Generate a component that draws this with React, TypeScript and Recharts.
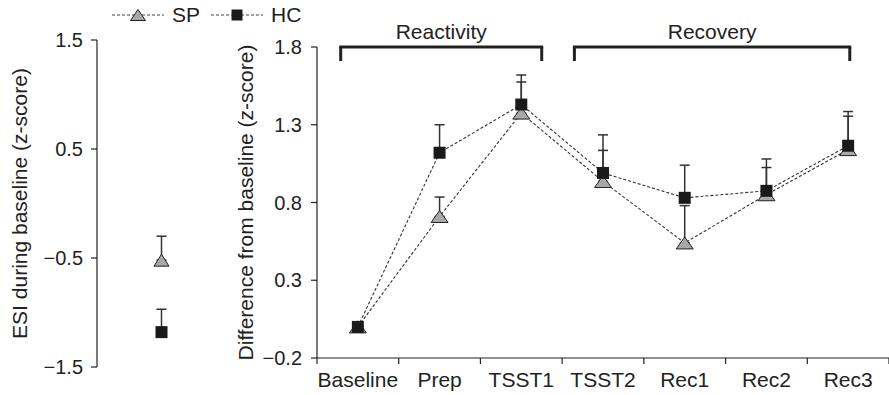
import React from "react";
import { LineChart, Line, XAxis, YAxis, ErrorBar, ReferenceLine, Legend } from "recharts";

// right panel: stress test stages
const stages = ["Baseline", "Prep", "TSST1", "TSST2", "Rec1", "Rec2", "Rec3"];
const spMean = [0, 0.71, 1.375, 0.935, 0.54, 0.85, 1.14];
const spSem = [0, 0.125, 0.2, 0.2, 0.24, 0.175, 0.215];
const hcMean = [0, 1.12, 1.43, 0.99, 0.83, 0.875, 1.165];
const hcSem = [0, 0.18, 0.19, 0.245, 0.21, 0.205, 0.22];
const diffTicks = [-0.2, 0.3, 0.8, 1.3, 1.8];

// left panel: ESI during baseline
const esiGroups = ["ESI"];
const esiSpMean = [-0.52];
const esiSpSem = [0.22];
const esiHcMean = [-1.18];
const esiHcSem = [0.21];
const esiTicks = [-1.5, -0.5, 0.5, 1.5];

// brackets over the stages (x in stage index units)
const phaseNames = ["Reactivity", "Recovery"];
const phaseFrom = [-0.21, 2.65];
const phaseTo = [2.25, 6.02];
const phaseTop = 1.8;
const phaseLeg = 1.71;

const seriesOrder = ["sp", "hc"];

const FONT = "'Liberation Sans', Arial, sans-serif";
const INK = "#222";
const RIGHT_W = 674;
const RIGHT_YAXIS = 102;
const BAND = (RIGHT_W - RIGHT_YAXIS) / stages.length;

const stageData = stages.map((stage, i) => ({
  stage,
  sp: spMean[i],
  spErr: [0, spSem[i]],
  hc: hcMean[i],
  hcErr: [0, hcSem[i]],
}));

const esiData = esiGroups.map((group, i) => ({
  group,
  sp: esiSpMean[i],
  spErr: [0, esiSpSem[i]],
  hc: esiHcMean[i],
  hcErr: [0, esiHcSem[i]],
}));

const minus = (v: number) => String(v).replace("-", "\u2212");

const Triangle = ({ cx, cy, w = 17, h = 12 }: any) => {
  if (cx == null || cy == null) return null;
  return (
    <polygon
      points={`${cx},${cy - h / 2} ${cx + w / 2},${cy + h / 2} ${cx - w / 2},${cy + h / 2}`}
      fill="#a8a8a8"
      stroke={INK}
      strokeWidth={1}
    />
  );
};

const Square = ({ cx, cy, s = 12 }: any) => {
  if (cx == null || cy == null) return null;
  return <rect x={cx - s / 2} y={cy - s / 2} width={s} height={s} fill="#1a1a1a" />;
};

const spDot = (size: number[]) => (p: any) => (
  <Triangle key={`sp-${p.index}`} cx={p.cx} cy={p.cy} w={size[0]} h={size[1]} />
);
const hcDot = (s: number) => (p: any) => <Square key={`hc-${p.index}`} cx={p.cx} cy={p.cy} s={s} />;

const yTitle = (text: string, x: number, fallbackY: number) => (props: any) => {
  const vb = props && props.viewBox;
  const cy = vb && vb.height ? vb.y + vb.height / 2 : fallbackY;
  return (
    <text
      x={x}
      y={cy}
      transform={`rotate(-90 ${x} ${cy})`}
      textAnchor="middle"
      fontSize={21}
      fontFamily={FONT}
      fill={INK}
    >
      {text}
    </text>
  );
};

const StageTick = ({ x, y, payload, index }: any) => (
  <g>
    {index === 0 && <line x1={x - BAND / 2} x2={x - BAND / 2} y1={y} y2={y + 6} stroke={INK} strokeWidth={1.2} />}
    <line x1={x + BAND / 2} x2={x + BAND / 2} y1={y} y2={y + 6} stroke={INK} strokeWidth={1.2} />
    <text x={x} y={y + 29} textAnchor="middle" fontSize={21} fontFamily={FONT} fill={INK}>
      {payload.value}
    </text>
  </g>
);

const LegendContent = ({ payload }: any) => {
  const items = [...(payload || [])].sort(
    (a: any, b: any) => seriesOrder.indexOf(a.dataKey) - seriesOrder.indexOf(b.dataKey)
  );
  return (
    <div style={{ display: "flex", alignItems: "center", fontSize: 21, fontFamily: FONT, color: INK }}>
      {items.map((e: any) => (
        <div key={e.value} style={{ display: "flex", alignItems: "center", marginRight: 11 }}>
          <svg width={52} height={16}>
            <line x1={0} y1={8} x2={52} y2={8} stroke="#444" strokeDasharray="3 2" />
            {e.dataKey === "sp" ? <Triangle cx={26} cy={8} w={15} h={11} /> : <Square cx={26} cy={8} s={11} />}
          </svg>
          <span style={{ marginLeft: 8 }}>{e.value}</span>
        </div>
      ))}
    </div>
  );
};

const tickStyle = { fontSize: 20, fill: INK, fontFamily: FONT };
const axisLine = { stroke: INK, strokeWidth: 1.2 };

export default function App() {
  return (
    <div style={{ position: "relative", width: 889, height: 395, fontFamily: FONT, background: "#fff" }}>
      <style>{"body{margin:0}"}</style>
      <div style={{ position: "absolute", left: 0, top: 0 }}>
        <LineChart width={215} height={395} data={esiData} margin={{ top: 40, right: 15, bottom: 0, left: 0 }}>
          <XAxis xAxisId="cat" dataKey="group" hide padding={{ left: 26, right: 0 }} />
          <XAxis
            xAxisId="frame"
            type="number"
            domain={[0, 1]}
            ticks={[0, 1]}
            allowDataOverflow
            tickFormatter={() => ""}
            tickSize={6}
            height={28}
            axisLine={axisLine}
            tickLine={axisLine}
          />
          <YAxis
            domain={[-1.5, 1.5]}
            ticks={esiTicks}
            width={97}
            tickSize={6}
            tickMargin={8}
            tick={tickStyle}
            tickFormatter={minus}
            axisLine={axisLine}
            tickLine={axisLine}
            label={yTitle("ESI during baseline (z-score)", 27, 204)}
          />
          <Line
            xAxisId="cat"
            dataKey="sp"
            name="SP"
            stroke="none"
            dot={spDot([15, 12])}
            isAnimationActive={false}
          >
            <ErrorBar dataKey="spErr" direction="y" width={5} stroke="#333" strokeWidth={1.5} />
          </Line>
          <Line
            xAxisId="cat"
            dataKey="hc"
            name="HC"
            stroke="none"
            dot={hcDot(12)}
            isAnimationActive={false}
          >
            <ErrorBar dataKey="hcErr" direction="y" width={5} stroke="#333" strokeWidth={1.5} />
          </Line>
        </LineChart>
      </div>
      <div style={{ position: "absolute", left: 215, top: 0 }}>
        <LineChart width={RIGHT_W} height={395} data={stageData} margin={{ top: 47, right: 0, bottom: 0, left: 0 }}>
          <XAxis
            xAxisId="cat"
            dataKey="stage"
            padding={{ left: BAND / 2, right: BAND / 2 }}
            interval={0}
            tick={<StageTick />}
            tickLine={false}
            tickSize={0}
            tickMargin={0}
            height={37}
            axisLine={axisLine}
          />
          <XAxis
            xAxisId="frame"
            type="number"
            domain={[0, stages.length - 1]}
            padding={{ left: BAND / 2, right: BAND / 2 }}
            allowDataOverflow
            hide
          />
          <YAxis
            domain={[-0.2, 1.8]}
            ticks={diffTicks}
            width={RIGHT_YAXIS}
            tickSize={6}
            tickMargin={9}
            tick={tickStyle}
            tickFormatter={minus}
            axisLine={axisLine}
            tickLine={axisLine}
            label={yTitle("Difference from baseline (z-score)", 38, 203)}
          />
          <Legend
            layout="vertical"
            align="center"
            verticalAlign="middle"
            wrapperStyle={{ left: -103, top: 3, width: 230, height: 24 }}
            content={<LegendContent />}
          />
          {phaseNames.map((name, i) => (
            <ReferenceLine
              key={`top-${name}`}
              xAxisId="frame"
              segment={[
                { x: phaseFrom[i], y: phaseTop },
                { x: phaseTo[i], y: phaseTop },
              ]}
              stroke={INK}
              strokeWidth={3}
              strokeLinecap="square"
              ifOverflow="visible"
              label={{ value: name, position: "top", offset: 8, fontSize: 21, fill: INK, fontFamily: FONT }}
            />
          ))}
          {phaseNames.map((name, i) => (
            <ReferenceLine
              key={`l-${name}`}
              xAxisId="frame"
              segment={[
                { x: phaseFrom[i], y: phaseTop },
                { x: phaseFrom[i], y: phaseLeg },
              ]}
              stroke={INK}
              strokeWidth={3}
              ifOverflow="visible"
            />
          ))}
          {phaseNames.map((name, i) => (
            <ReferenceLine
              key={`r-${name}`}
              xAxisId="frame"
              segment={[
                { x: phaseTo[i], y: phaseTop },
                { x: phaseTo[i], y: phaseLeg },
              ]}
              stroke={INK}
              strokeWidth={3}
              ifOverflow="visible"
            />
          ))}
          <Line
            xAxisId="cat"
            dataKey="sp"
            name="SP"
            stroke="#333"
            strokeWidth={1.1}
            strokeDasharray="3 2"
            dot={spDot([17, 12])}
            isAnimationActive={false}
          >
            <ErrorBar dataKey="spErr" direction="y" width={5} stroke="#333" strokeWidth={1.5} />
          </Line>
          <Line
            xAxisId="cat"
            dataKey="hc"
            name="HC"
            stroke="#333"
            strokeWidth={1.1}
            strokeDasharray="3 2"
            dot={hcDot(12)}
            isAnimationActive={false}
          >
            <ErrorBar dataKey="hcErr" direction="y" width={5} stroke="#333" strokeWidth={1.5} />
          </Line>
        </LineChart>
      </div>
    </div>
  );
}
